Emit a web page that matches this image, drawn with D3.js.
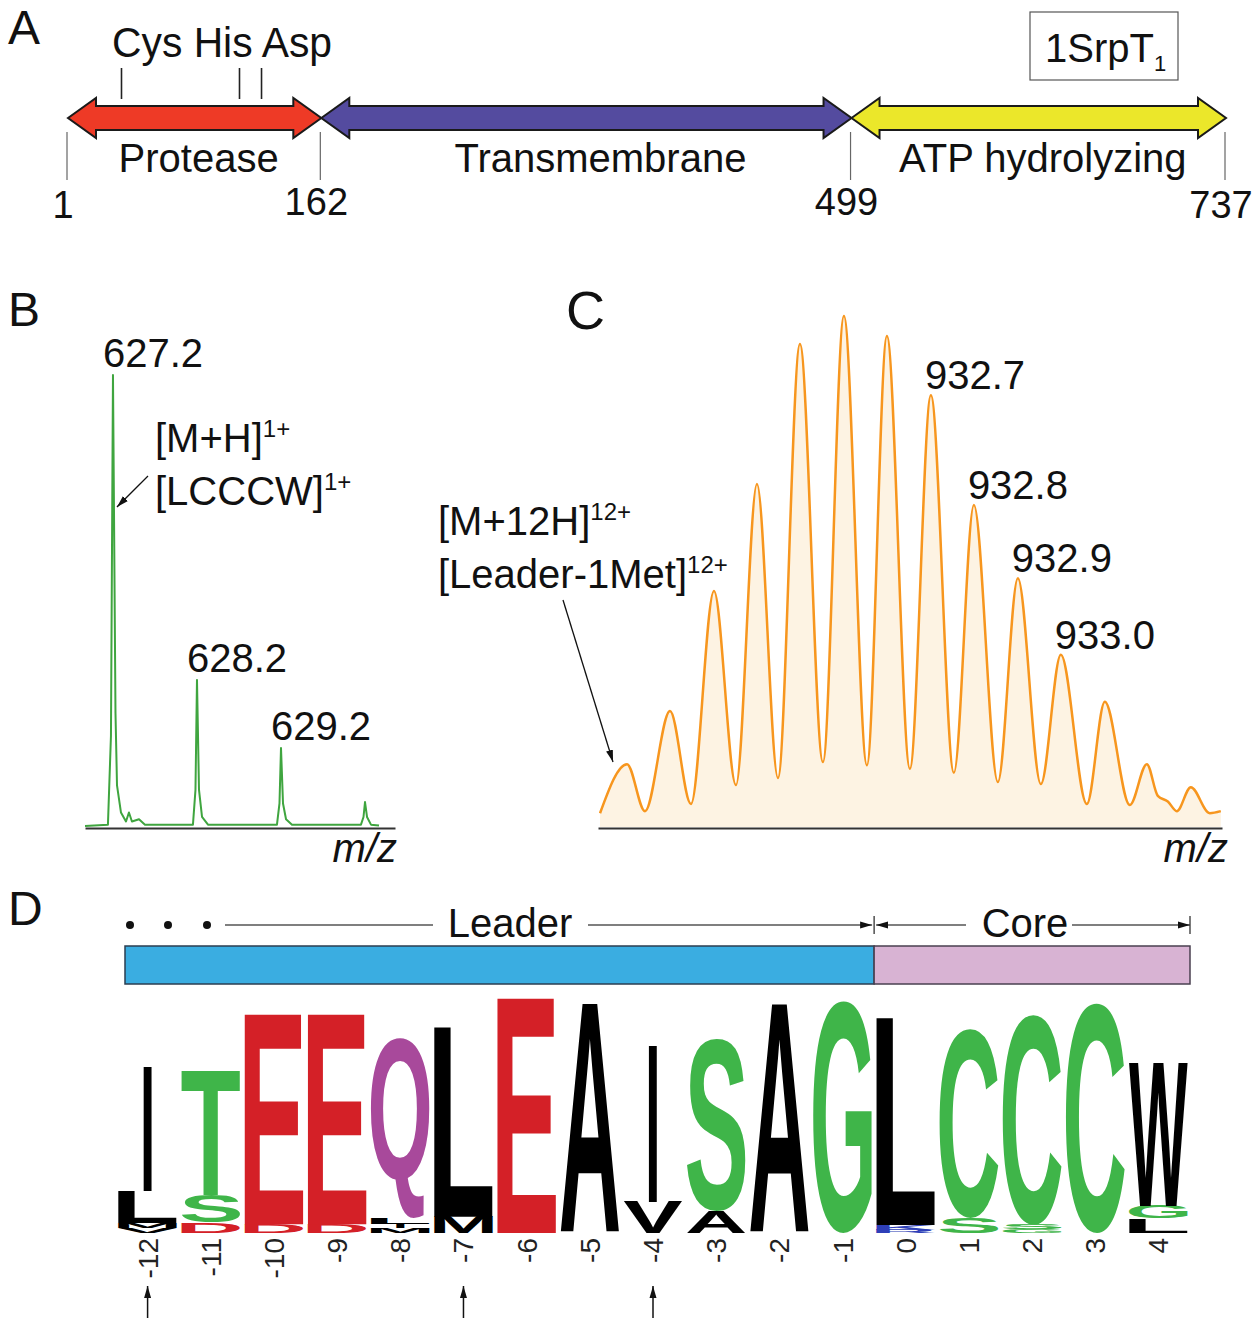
<!DOCTYPE html>
<html><head><meta charset="utf-8">
<script src="https://cdn.jsdelivr.net/npm/d3@7"></script>
<style>body{margin:0;background:#fff}svg{display:block}</style>
</head><body><svg id="fig" width="1260" height="1324"></svg>
<script>
// ---------------- Panel A data ----------------
const domainNames = ["Protease", "Transmembrane", "ATP hydrolyzing"];
const domainStart = [1, 162, 499];
const domainEnd = [162, 499, 737];
const domainColors = ["#ee3a26", "#544b9f", "#ebe72a"];
const boundaryResidues = [1, 162, 499, 737];
const siteNames = ["Cys", "His", "Asp"];
const siteResidues = [35, 110, 124];
const proteinName = "1SrpT";
const proteinSub = "1";

// ---------------- Panel B data (m/z, relative intensity) ----------------
const bMz = [626.867, 627.140, 627.176, 627.200, 627.230, 627.248, 627.295, 627.355, 627.390, 627.426, 627.510, 627.581,
  628.152, 628.182, 628.200, 628.224, 628.260, 628.331,
  629.152, 629.182, 629.200, 629.224, 629.260, 629.331,
  630.152, 630.182, 630.200, 630.224, 630.271, 630.367];
const bInt = [0, 0.3, 20, 100, 25, 9, 3, 1, 3, 1, 1.5, 0.3,
  0.3, 8, 32.4, 8, 2, 0.3,
  0.3, 5, 17.3, 5, 1.5, 0.3,
  0.3, 2, 5.3, 2, 0.3, 0.1];
const bPeakLabels = ["627.2", "628.2", "629.2"];
const bPeakMz = [627.2, 628.2, 629.2];
const bPeakInt = [100, 32.4, 17.3];

// ---------------- Panel C data (m/z, relative intensity) ----------------
const cMz = [932.0635, 932.1154, 932.1500, 932.1981, 932.2385, 932.2827, 932.3250, 932.3654, 932.4058, 932.4481,
  932.4923, 932.5327, 932.5769, 932.6154, 932.6596, 932.7000, 932.7442, 932.7827, 932.8288, 932.8673,
  932.9115, 932.9500, 933.0000, 933.0346, 933.0827, 933.1154, 933.1365, 933.1558, 933.1731, 933.2000,
  933.2365, 933.2577];
const cInt = [2.7, 12.3, 3.1, 22.7, 4.5, 46.2, 8.2, 67.1, 9.6, 94.5,
  12.7, 100, 12.1, 96.1, 11.4, 84.5, 10.6, 63.0, 8.8, 48.7,
  8.4, 33.7, 4.5, 24.5, 4.3, 12.3, 6.1, 5.0, 3.1, 7.8,
  2.7, 3.1];
const cPeakLabels = ["932.7", "932.8", "932.9", "933.0"];
const cPeakMz = [932.7000, 932.7827, 932.8673, 932.9500];
const cPeakInt = [84.5, 63.0, 48.7, 33.7];

// ---------------- Panel D data (sequence logo, bits; bottom -> top) ----------------
const logoPositions = [-12, -11, -10, -9, -8, -7, -6, -5, -4, -3, -2, -1, 0, 1, 2, 3, 4];
const logoStacks = [
  [["V", 0.09], ["M", 0.09], ["L", 0.55], ["I", 2.16]],
  [["D", 0.18], ["S", 0.47], ["T", 2.16]],
  [["D", 0.15], ["E", 3.63]],
  [["D", 0.15], ["E", 3.63]],
  [["M", 0.08], ["I", 0.08], ["L", 0.1], ["Q", 3.13]],
  [["M", 0.28], ["L", 3.28]],
  [["E", 4.06]],
  [["A", 3.97]],
  [["V", 0.54], ["I", 2.73]],
  [["A", 0.38], ["S", 2.99]],
  [["A", 3.96]],
  [["G", 4.01]],
  [["R", 0.06], ["K", 0.08], ["L", 3.58]],
  [["S", 0.26], ["C", 3.27]],
  [["G", 0.06], ["S", 0.08], ["C", 3.63]],
  [["C", 3.97]],
  [["L", 0.25], ["G", 0.22], ["W", 2.47]]
];
const markedPositions = [-12, -7, -4];
const leaderPositions = [-12, -1];
const corePositions = [0, 4];

// ---------------- drawing ----------------
const FONT = '"Liberation Sans", Arial, Helvetica, sans-serif';
const svg = d3.select("#fig");
svg.append("rect").attr("width", 1260).attr("height", 1324).attr("fill", "#fff");
const defs = svg.append("defs");
defs.append("marker").attr("id", "ah").attr("viewBox", "0 0 12 10").attr("refX", 12).attr("refY", 5)
  .attr("markerWidth", 12).attr("markerHeight", 10).attr("markerUnits", "userSpaceOnUse")
  .attr("orient", "auto-start-reverse")
  .append("path").attr("d", "M0,1.5L12,5L0,8.5Z").attr("fill", "#111");

function txt(g, x, y, s, size, opts = {}) {
  return g.append("text").attr("x", x).attr("y", y).text(s)
    .attr("font-family", FONT).attr("font-size", size)
    .attr("font-style", opts.italic ? "italic" : null)
    .attr("text-anchor", opts.anchor || "start").attr("fill", opts.fill || "#111");
}

// panel letters
txt(svg, 8, 44, "A", 48);
txt(svg, 8, 326, "B", 48);
txt(svg, 566, 329, "C", 54);
txt(svg, 8, 925, "D", 48);

// ===== Panel A =====
const gA = svg.append("g");
const xA = d3.scaleLinear().domain([1, 737]).range([68, 1226]);
const yc = 118, sh = 12, hh = 20, hl = 28;
function dblArrow(x0, x1) {
  return `M${x0},${yc}L${x0 + hl},${yc - hh}L${x0 + hl},${yc - sh}L${x1 - hl},${yc - sh}L${x1 - hl},${yc - hh}L${x1},${yc}` +
    `L${x1 - hl},${yc + hh}L${x1 - hl},${yc + sh}L${x0 + hl},${yc + sh}L${x0 + hl},${yc + hh}Z`;
}
domainNames.forEach((n, i) => {
  const x0 = xA(domainStart[i]), x1 = xA(domainEnd[i]);
  gA.append("path").attr("d", dblArrow(x0, x1)).attr("fill", domainColors[i])
    .attr("stroke", "#1a1a1a").attr("stroke-width", 2).attr("stroke-linejoin", "miter");
  txt(gA, (x0 + x1) / 2 + (i === 1 ? 14 : 4), 172, n, 40, { anchor: "middle" });
});
boundaryResidues.forEach((r, i) => {
  const x = xA(r) - 1;
  gA.append("line").attr("x1", x).attr("x2", x).attr("y1", 132).attr("y2", 180)
    .attr("stroke", "#666").attr("stroke-width", 1.2);
  txt(gA, x - 4, i === 0 || i === 3 ? 218 : 215, String(r), 38, { anchor: "middle" });
});
siteResidues.forEach(r => {
  gA.append("line").attr("x1", xA(r)).attr("x2", xA(r)).attr("y1", 68).attr("y2", 99)
    .attr("stroke", "#222").attr("stroke-width", 1.6);
});
txt(gA, 112, 57, siteNames.join(" "), 42).attr("textLength", 220).attr("lengthAdjust", "spacingAndGlyphs");
gA.append("rect").attr("x", 1030).attr("y", 12).attr("width", 148).attr("height", 68)
  .attr("fill", "#fff").attr("stroke", "#555").attr("stroke-width", 1.2);
const tName = txt(gA, 1045, 62, proteinName, 40);
tName.append("tspan").attr("font-size", 22).attr("dy", 9).text(proteinSub);

// ===== Panel B =====
const gB = svg.append("g");
const xB = d3.scaleLinear().domain([626.867, 630.557]).range([85, 395]);
const yB = d3.scaleLinear().domain([0, 100]).range([826, 375]);
gB.append("g").attr("transform", "translate(0,828)")
  .call(d3.axisBottom(xB).tickValues([]).tickSizeOuter(0))
  .call(g => g.select(".domain").attr("stroke", "#333").attr("stroke-width", 2));
gB.append("path").datum(d3.range(bMz.length))
  .attr("d", d3.line().x(i => xB(bMz[i])).y(i => yB(bInt[i])))
  .attr("fill", "none").attr("stroke", "#3fa53f").attr("stroke-width", 2).attr("stroke-linejoin", "round");
bPeakLabels.forEach((s, i) => txt(gB, xB(bPeakMz[i]) - 10, yB(bPeakInt[i]) - 8, s, 40));
const tMH = txt(gB, 155, 452, "[M+H]", 40);
tMH.append("tspan").attr("font-size", 24).attr("dy", -15).text("1+");
const tLC = txt(gB, 155, 505, "[LCCCW]", 40);
tLC.append("tspan").attr("font-size", 24).attr("dy", -15).text("1+");
gB.append("line").attr("x1", 148).attr("y1", 476).attr("x2", xB(627.2) + 4).attr("y2", 507)
  .attr("stroke", "#111").attr("stroke-width", 1.3).attr("marker-end", "url(#ah)");
txt(gB, 397, 862, "m/z", 40, { italic: true, anchor: "end" });

// ===== Panel C =====
const gC = svg.append("g");
const xC = d3.scaleLinear().domain([932.0596, 933.2600]).range([598, 1222]);
const yC = d3.scaleLinear().domain([0, 100]).range([827, 316]);
gC.append("path").datum(d3.range(cMz.length))
  .attr("d", d3.area().x(i => xC(cMz[i])).y0(yC(0)).y1(i => yC(cInt[i])).curve(d3.curveMonotoneX))
  .attr("fill", "#fdf3e3");
gC.append("path").datum(d3.range(cMz.length))
  .attr("d", d3.line().x(i => xC(cMz[i])).y(i => yC(cInt[i])).curve(d3.curveMonotoneX))
  .attr("fill", "none").attr("stroke", "#f7961e").attr("stroke-width", 2.5).attr("stroke-linejoin", "round");
gC.append("g").attr("transform", "translate(0,828)")
  .call(d3.axisBottom(xC).tickValues([]).tickSizeOuter(0))
  .call(g => g.select(".domain").attr("stroke", "#333").attr("stroke-width", 2));
cPeakLabels.forEach((s, i) => txt(gC, xC(cPeakMz[i]) - 6, yC(cPeakInt[i]) - 6, s, 40));
const tM12 = txt(gC, 438, 535, "[M+12H]", 40);
tM12.append("tspan").attr("font-size", 24).attr("dy", -15).text("12+");
const tLead = txt(gC, 438, 588, "[Leader-1Met]", 40);
tLead.append("tspan").attr("font-size", 24).attr("dy", -15).text("12+");
gC.append("line").attr("x1", 563).attr("y1", 600).attr("x2", xC(cMz[0]) + 13).attr("y2", 762)
  .attr("stroke", "#111").attr("stroke-width", 1.3).attr("marker-end", "url(#ah)");
txt(gC, 1228, 862, "m/z", 40, { italic: true, anchor: "end" });

// ===== Panel D =====
const gD = svg.append("g");
const xD = d3.scaleBand().domain(logoPositions).range([116, 1190]).paddingInner(0).paddingOuter(0);
const bw = xD.bandwidth();
const yD = d3.scaleLinear().domain([0, 4.32]).range([1233, 983]);
const barX0 = xD(leaderPositions[0]) + 9, barMid = xD(leaderPositions[1]) + bw, barX1 = xD(corePositions[1]) + bw;
gD.append("rect").attr("x", barX0).attr("y", 946).attr("width", barMid - barX0).attr("height", 38)
  .attr("fill", "#3aade1").attr("stroke", "#2b3e50").attr("stroke-width", 1.5);
gD.append("rect").attr("x", barMid).attr("y", 946).attr("width", barX1 - barMid).attr("height", 38)
  .attr("fill", "#d8b3d3").attr("stroke", "#4a4050").attr("stroke-width", 1.5);
// header
const hy = 925;
[barX0 + 5, barX0 + 43, barX0 + 82].forEach(x => gD.append("circle").attr("cx", x).attr("cy", hy).attr("r", 4).attr("fill", "#111"));
const hline = (x1, x2, m) => gD.append("line").attr("x1", x1).attr("x2", x2).attr("y1", hy).attr("y2", hy)
  .attr("stroke", "#555").attr("stroke-width", 1.3).attr("marker-end", m ? "url(#ah)" : null);
hline(barX0 + 100, 433);
hline(588, barMid - 2, true);
hline(966, barMid + 2, true);
hline(1072, barX1, true);
[barMid, barX1].forEach(x => gD.append("line").attr("x1", x).attr("x2", x).attr("y1", hy - 9).attr("y2", hy + 9)
  .attr("stroke", "#333").attr("stroke-width", 1.3));
txt(gD, 510, 937, "Leader", 40, { anchor: "middle" });
txt(gD, 1025, 937, "Core", 40, { anchor: "middle" });

// letters
const letterColor = { E: "#d42027", D: "#d42027", T: "#3fb549", S: "#3fb549", G: "#3fb549", C: "#3fb549",
  Q: "#a8499b", K: "#2e3fb8", R: "#2e3fb8" };
const mctx = document.createElement("canvas").getContext("2d");
const FS = 200;
mctx.font = `bold ${FS}px "Liberation Sans"`;
function inkBox(ch) {
  const m = mctx.measureText(ch);
  return { x0: -m.actualBoundingBoxLeft, x1: m.actualBoundingBoxRight, y0: -m.actualBoundingBoxAscent, y1: m.actualBoundingBoxDescent };
}
logoPositions.forEach((p, ci) => {
  const cx = xD(p) + bw / 2;
  let cum = 0;
  logoStacks[ci].forEach(([ch, bits]) => {
    const yTop = yD(cum + bits), yBot = yD(cum);
    cum += bits;
    const h = yBot - yTop;
    if (h < 0.4) return;
    const w = ch === "I" ? bw * 0.13 : bw * 0.93;
    const ink = inkBox(ch);
    const sx = w / (ink.x1 - ink.x0), sy = h / (ink.y1 - ink.y0);
    gD.append("text").text(ch).attr("font-family", FONT).attr("font-weight", "bold").attr("font-size", FS)
      .attr("fill", letterColor[ch] || "#000")
      .attr("transform", `translate(${cx - w / 2},${yTop}) scale(${sx},${sy}) translate(${-ink.x0},${-ink.y0})`);
  });
  // tick label
  gD.append("text").text(String(p)).attr("font-family", FONT).attr("font-size", 28).attr("fill", "#222")
    .attr("text-anchor", "end")
    .attr("transform", `translate(${cx + 10},${1238}) rotate(-90)`);
});
markedPositions.forEach(p => {
  const cx = xD(p) + bw / 2;
  gD.append("line").attr("x1", cx).attr("x2", cx).attr("y1", 1318).attr("y2", 1286)
    .attr("stroke", "#111").attr("stroke-width", 1.5).attr("marker-end", "url(#ah)");
});
</script></body></html>
